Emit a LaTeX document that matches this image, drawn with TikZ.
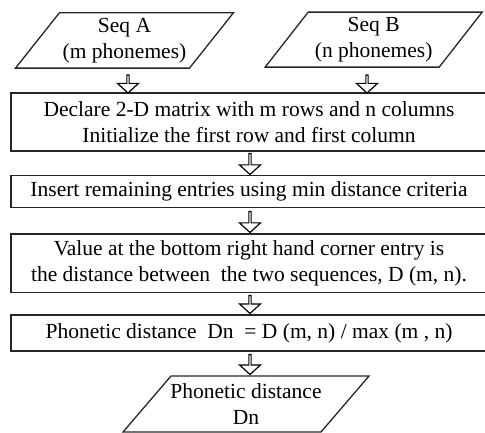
\documentclass[tikz,border=0pt]{standalone}
\usepackage{fontspec}
\setmainfont{Liberation Serif}
\usetikzlibrary{shapes.arrows,calc}
\begin{document}
\begin{tikzpicture}[x=1pt,y=-1pt,
  every node/.style={font=\fontsize{21.5}{26}\selectfont, align=center, inner sep=0pt},
  procbox/.style={draw=black!85, line width=1.3pt, rectangle, minimum width=476pt},
  ioline/.style={draw=black!85, line width=1.3pt, line join=miter},
  flowarrow/.style={draw=black, line width=1.2pt, fill=white, single arrow,
     shape border rotate=270, minimum width=21pt, single arrow head extend=5pt,
     single arrow head indent=0pt, single arrow tip angle=95, inner sep=0pt}
]
\useasboundingbox (0,0) rectangle (485,432);
% input texts
\node (seqA) at (124.5,40.4) {Seq A\\(m phonemes)};
\node (seqB) at (373.7,39.6) {Seq B\\(n phonemes)};
% input parallelograms
\draw[ioline] ($(seqA)+(-65,-27.7)$) -- ($(seqA)+(109,-27.7)$) -- ($(seqA)+(65,27.7)$) -- ($(seqA)+(-109,27.7)$) -- cycle;
\draw[ioline] ($(seqB)+(-65.5,-27.5)$) -- ($(seqB)+(108.5,-27.5)$) -- ($(seqB)+(65.5,27.5)$) -- ($(seqB)+(-108.5,27.5)$) -- cycle;
% process boxes
\node[procbox, minimum height=58pt] (decl) at (249,122) {Declare 2-D matrix with m rows and n columns\\Initialize the first row and first column};
\node[procbox, minimum height=32pt] (ins) at (249,191.7) {Insert remaining entries using min distance criteria};
\node[procbox, minimum height=58.7pt] (val) at (249,263.4) {Value at the bottom right hand corner entry is\\the distance between\ \ the two sequences, D (m, n).};
\node[procbox, minimum height=36pt] (phon) at (249,333) {Phonetic distance\ \ Dn\ \ = D (m, n) / max (m , n)};
% output
\node (out) at (246,404) {Phonetic distance\\Dn};
\draw[ioline] ($(out)+(-75,-28)$) -- ($(out)+(123,-28)$) -- ($(out)+(75,28)$) -- ($(out)+(-123,28)$) -- cycle;
% block arrows
\node[flowarrow, minimum height=18pt] (a1) at (128,83.5) {};
\node[flowarrow, minimum height=18pt] (a2) at (367,83.5) {};
\node[flowarrow, minimum height=21pt] (a3) at (250,163.5) {};
\node[flowarrow, minimum height=21pt] (a4) at (250,221.5) {};
\node[flowarrow, minimum height=18pt] (a5) at (250,304) {};
\node[flowarrow, minimum height=20pt] (a6) at (250,364) {};
\end{tikzpicture}
\end{document}
